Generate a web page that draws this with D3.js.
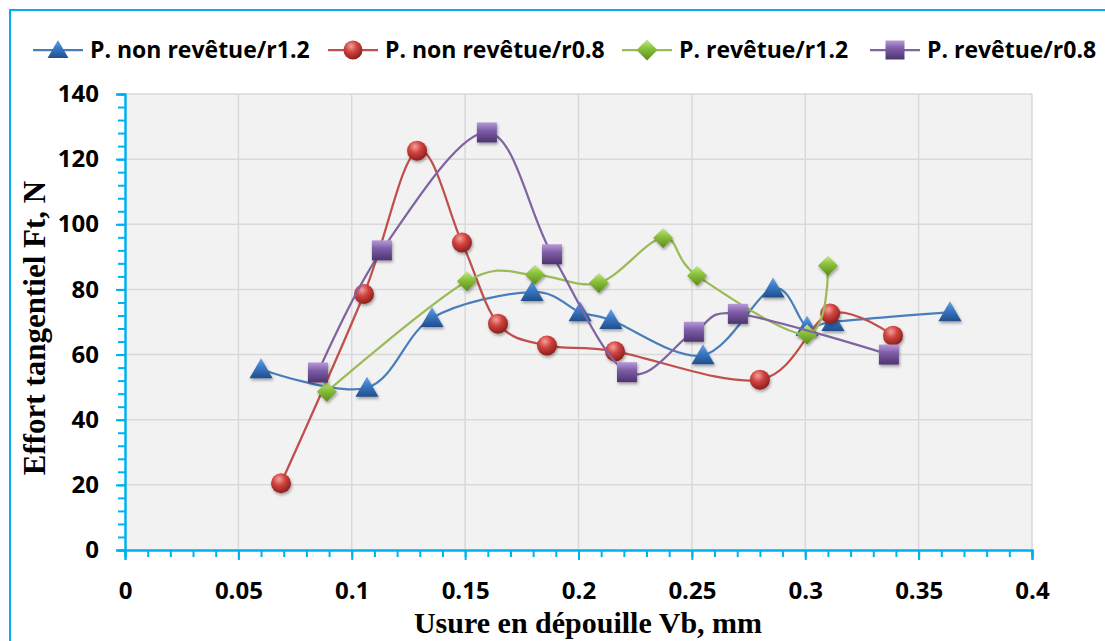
<!DOCTYPE html>
<html>
<head>
<meta charset="utf-8">
<script src="https://cdn.jsdelivr.net/npm/d3@7"></script>
<style>
	body { margin: 0; background: #fff; }
	svg { display: block; }
</style>
</head>
<body>
<svg id="chart" width="1105" height="641"></svg>
<script>

// Data

var seriesNames = ["P. non revêtue/r1.2", "P. non revêtue/r0.8", "P. revêtue/r1.2", "P. revêtue/r0.8"];

var xNonRev12 = [0.060, 0.1067, 0.1354, 0.1795, 0.2007, 0.2143, 0.2549, 0.2858, 0.3008, 0.3122, 0.3638];
var yNonRev12 = [55.5, 49.8, 71.2, 79.2, 73.0, 70.6, 59.8, 80.3, 68.5, 70.0, 73.0];

var xNonRev08 = [0.0688, 0.1054, 0.1288, 0.1486, 0.1645, 0.1861, 0.2161, 0.2800, 0.3110, 0.3387];
var yNonRev08 = [20.5, 78.6, 122.6, 94.4, 69.5, 62.8, 61.0, 52.3, 72.6, 65.8];

var xRev12 = [0.0890, 0.1508, 0.1808, 0.2090, 0.2373, 0.2523, 0.3008, 0.3100];
var yRev12 = [48.6, 82.5, 84.5, 82.0, 95.8, 84.2, 66.2, 87.3];

var xRev08 = [0.0851, 0.1133, 0.1596, 0.1883, 0.2214, 0.2509, 0.2703, 0.3369];
var yRev08 = [54.5, 92.0, 128.2, 90.8, 54.6, 67.0, 72.5, 60.0];

var xTicks = [0, 0.05, 0.1, 0.15, 0.2, 0.25, 0.3, 0.35, 0.4];
var yTicks = [0, 20, 40, 60, 80, 100, 120, 140];

var xTitle = "Usure en dépouille Vb, mm";
var yTitle = "Effort tangentiel Ft, N";

var series = [
	{name: seriesNames[0], xs: xNonRev12, ys: yNonRev12, line: "#4a7ebb", fill: "#3d7cc9", dark: "#1f4f8c", light: "#6ea2e0", shape: "triangle"},
	{name: seriesNames[1], xs: xNonRev08, ys: yNonRev08, line: "#c0504d", fill: "#d0433f", dark: "#8c1f1c", light: "#f3a09d", shape: "circle"},
	{name: seriesNames[2], xs: xRev12, ys: yRev12, line: "#9bbb59", fill: "#8cc43c", dark: "#5a8a1c", light: "#c5e88e", shape: "diamond"},
	{name: seriesNames[3], xs: xRev08, ys: yRev08, line: "#8064a2", fill: "#7f5ea8", dark: "#4d3470", light: "#b79ad8", shape: "square"}
];

var svg = d3.select("#chart");

var margin = {left: 125, top: 94, right: 1032, bottom: 550};

var x = d3.scaleLinear().domain([0, 0.4]).range([margin.left, margin.right]);
var y = d3.scaleLinear().domain([0, 140]).range([margin.bottom, margin.top]);

var axisColor = "#00b0f0";

// outer frame
svg.append("rect")
	.attr("x", 10).attr("y", 10)
	.attr("width", 1110).attr("height", 650)
	.attr("fill", "none")
	.attr("stroke", axisColor)
	.attr("stroke-width", 2);

// gradients + shadow for the 3d-ish markers
var defs = svg.append("defs");

var shadow = defs.append("filter").attr("id", "shadow")
	.attr("x", "-50%").attr("y", "-50%").attr("width", "200%").attr("height", "200%");
shadow.append("feDropShadow")
	.attr("dx", 1).attr("dy", 2).attr("stdDeviation", 1.5)
	.attr("flood-color", "#000").attr("flood-opacity", 0.35);

series.forEach(function (s, i) {
	if(s.shape == "circle") {
		var g = defs.append("radialGradient").attr("id", "grad" + i)
			.attr("cx", "40%").attr("cy", "30%").attr("r", "70%");
		g.append("stop").attr("offset", "0%").attr("stop-color", s.light);
		g.append("stop").attr("offset", "45%").attr("stop-color", s.fill);
		g.append("stop").attr("offset", "100%").attr("stop-color", s.dark);
	} else {
		var g = defs.append("linearGradient").attr("id", "grad" + i)
			.attr("x1", 0).attr("y1", 0).attr("x2", 0).attr("y2", 1);
		g.append("stop").attr("offset", "0%").attr("stop-color", s.light);
		g.append("stop").attr("offset", "40%").attr("stop-color", s.fill);
		g.append("stop").attr("offset", "100%").attr("stop-color", s.dark);
	}
});

// plot area
svg.append("rect")
	.attr("x", margin.left).attr("y", margin.top)
	.attr("width", margin.right - margin.left)
	.attr("height", margin.bottom - margin.top)
	.attr("fill", "#f2f2f2");

// grid
svg.append("g").selectAll("line")
	.data(xTicks.slice(1))
	.enter().append("line")
	.attr("x1", function (d) { return x(d); })
	.attr("x2", function (d) { return x(d); })
	.attr("y1", margin.top).attr("y2", margin.bottom)
	.attr("stroke", "#d9d9d9").attr("stroke-width", 1.5);

svg.append("g").selectAll("line")
	.data(yTicks.slice(1))
	.enter().append("line")
	.attr("y1", function (d) { return y(d); })
	.attr("y2", function (d) { return y(d); })
	.attr("x1", margin.left).attr("x2", margin.right)
	.attr("stroke", "#d9d9d9").attr("stroke-width", 1.5);

// axes
var xMinor = d3.range(0, 0.4001, 0.01);
var yMinor = d3.range(0, 140.001, 4);

function styleAxis(g) {
	g.select(".domain").attr("stroke", axisColor).attr("stroke-width", 2);
	g.selectAll(".tick line").attr("stroke", axisColor).attr("stroke-width", 2);
	g.selectAll(".tick text")
		.attr("fill", "#000")
		.style("font-family", "'Open Sans', sans-serif")
		.style("font-weight", "bold")
		.style("font-size", "24px");
}

svg.append("g")
	.attr("transform", "translate(0," + margin.bottom + ")")
	.call(d3.axisBottom(x).tickValues(xMinor).tickSize(7).tickFormat(""))
	.call(styleAxis);

svg.append("g")
	.attr("transform", "translate(" + margin.left + ",0)")
	.call(d3.axisLeft(y).tickValues(yMinor).tickSize(7).tickFormat(""))
	.call(styleAxis);

svg.append("g")
	.attr("transform", "translate(0," + margin.bottom + ")")
	.call(d3.axisBottom(x).tickValues(xTicks).tickSize(10).tickPadding(22).tickFormat(d3.format("")))
	.call(styleAxis);

svg.append("g")
	.attr("transform", "translate(" + margin.left + ",0)")
	.call(d3.axisLeft(y).tickValues(yTicks).tickSize(9).tickPadding(17))
	.call(styleAxis);

// axis titles
svg.append("text")
	.attr("x", 588).attr("y", 633)
	.attr("text-anchor", "middle")
	.style("font-family", "'Liberation Serif', 'Times New Roman', serif")
	.style("font-weight", "bold")
	.style("font-size", "30px")
	.text(xTitle);

svg.append("text")
	.attr("transform", "translate(45,328) rotate(-90)")
	.attr("text-anchor", "middle")
	.style("font-family", "'Liberation Serif', 'Times New Roman', serif")
	.style("font-weight", "bold")
	.style("font-size", "31px")
	.text(yTitle);

// markers
function markerPath(shape, size) {
	var r = size / 2;
	if(shape == "triangle") {
		return "M0," + (-r * 1.05) + "L" + (r * 1.1) + "," + (r * 0.85) + "L" + (-r * 1.1) + "," + (r * 0.85) + "Z";
	}
	if(shape == "diamond") {
		return "M0," + (-r) + "L" + r + ",0L0," + r + "L" + (-r) + ",0Z";
	}
	if(shape == "square") {
		return "M" + (-r) + "," + (-r) + "h" + size + "v" + size + "h" + (-size) + "Z";
	}
	return "M" + (-r) + ",0a" + r + "," + r + " 0 1,0 " + size + ",0a" + r + "," + r + " 0 1,0 " + (-size) + ",0Z";
}

var markerSize = {triangle: 21, circle: 20, diamond: 20, square: 20};

var line = d3.line()
	.x(function (d) { return x(d[0]); })
	.y(function (d) { return y(d[1]); })
	.curve(d3.curveCardinal.tension(0));

series.forEach(function (s, i) {

	var pts = s.xs.map(function (v, k) { return [v, s.ys[k]]; });

	var g = svg.append("g");

	g.append("path")
		.attr("d", line(pts))
		.attr("fill", "none")
		.attr("stroke", s.line)
		.attr("stroke-width", 2.25);

	g.selectAll(".marker")
		.data(pts)
		.enter().append("path")
		.attr("class", "marker")
		.attr("d", markerPath(s.shape, markerSize[s.shape]))
		.attr("transform", function (d) { return "translate(" + x(d[0]) + "," + y(d[1]) + ")"; })
		.attr("fill", "url(#grad" + i + ")")
		.attr("filter", "url(#shadow)");
});

// legend
var legendX = [33, 328, 622, 870];

var legend = svg.append("g").selectAll("g")
	.data(series)
	.enter().append("g")
	.attr("transform", function (d, i) { return "translate(" + legendX[i] + ",50)"; });

legend.append("line")
	.attr("x1", 0).attr("x2", 50)
	.attr("stroke", function (d) { return d.line; })
	.attr("stroke-width", 2.25);

legend.append("path")
	.attr("d", function (d) { return markerPath(d.shape, d.shape == "diamond" ? 21 : 19); })
	.attr("transform", "translate(25,0)")
	.attr("fill", function (d, i) { return "url(#grad" + i + ")"; });

legend.append("text")
	.attr("x", 57).attr("y", 7.5)
	.style("font-family", "'Open Sans', sans-serif")
	.style("font-weight", "bold")
	.style("font-size", "23px")
	.text(function (d) { return d.name; });

</script>
</body>
</html>
